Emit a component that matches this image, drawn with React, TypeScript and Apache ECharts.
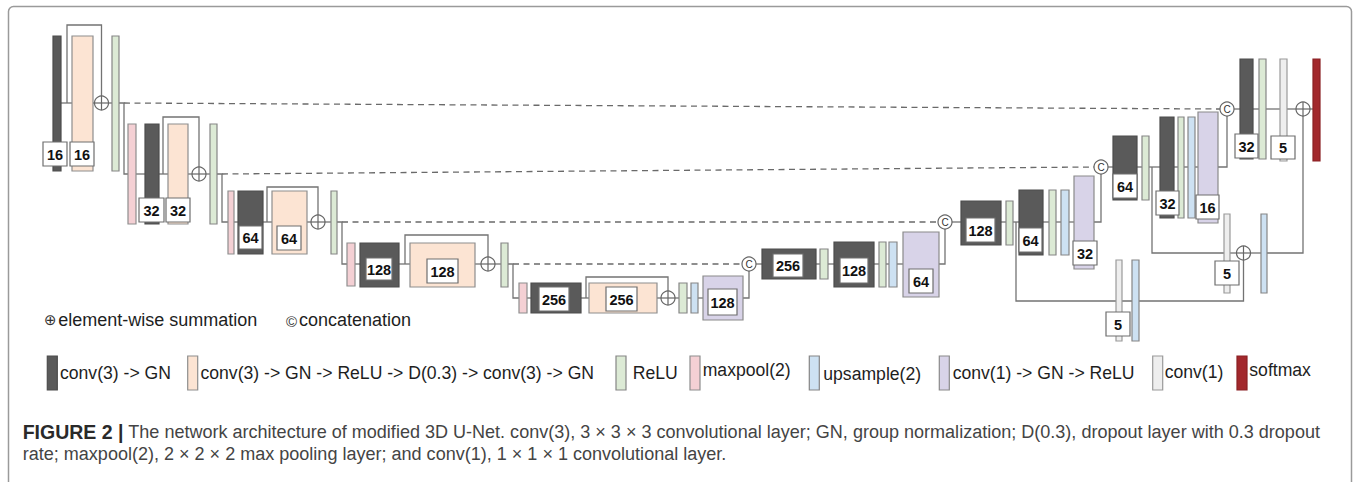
import React, { useEffect, useRef } from "react";
import * as echarts from "echarts";

const W = 1357;
const H = 482;
const FONT = "'Liberation Sans', Arial, Helvetica, sans-serif";

// ---------- layer kinds (legend order) ----------
const layerKinds = [
  "conv(3) -> GN",
  "conv(3) -> GN -> ReLU -> D(0.3) -> conv(3) -> GN",
  "ReLU",
  "maxpool(2)",
  "upsample(2)",
  "conv(1) -> GN -> ReLU",
  "conv(1)",
  "softmax",
];

// ---------- diagram data, in diagram units ----------
// layer blocks: [x0, y0, x1, y1, kindIndex]
const encoderBlocks = [
  [53, 36, 61, 171, 0], [72, 36, 93, 171, 1], [112, 36, 119, 171, 2],
  [128, 124, 136, 224, 3], [145, 124, 159, 224, 0], [168, 124, 188, 224, 1], [210, 124, 217, 224, 2],
  [228, 191, 234, 254, 3], [238, 191, 263, 254, 0], [272, 191, 307, 254, 1], [331, 191, 337, 254, 2],
  [347, 243, 355, 286, 3], [360, 243, 399, 287, 0], [410, 243, 475, 287, 1], [501, 243, 508, 287, 2],
  [519, 283, 527, 313, 3], [531, 283, 581, 313, 0], [589, 283, 657, 313, 1], [679, 283, 687, 313, 2],
  [691, 283, 698, 313, 4], [703, 276, 743, 320, 5],
];
const decoderBlocks = [
  [762, 249, 816, 279, 0], [820, 249, 828, 279, 2], [834, 242, 874, 287, 0], [879, 242, 886, 287, 2],
  [889, 242, 897, 287, 4], [903, 232, 939, 297, 5],
  [961, 201, 1001, 245, 0], [1006, 201, 1013, 245, 2], [1019, 190, 1043, 255, 0], [1049, 190, 1056, 255, 2],
  [1061, 190, 1069, 255, 4], [1074, 176, 1094, 269, 5],
  [1113, 136, 1137, 200, 0], [1142, 136, 1149, 200, 2], [1160, 117, 1174, 218, 0], [1178, 117, 1184, 218, 2],
  [1188, 117, 1195, 218, 4], [1198, 112, 1218, 223, 5],
  [1240, 59, 1253, 159, 0], [1259, 59, 1266, 159, 2], [1280, 59, 1287, 161, 6], [1313, 59, 1320, 161, 7],
];
const supervisionBlocks = [
  [1224, 214, 1230, 293, 6], [1261, 214, 1267, 293, 4],
  [1116, 260, 1122, 341, 6], [1132, 260, 1139, 341, 4],
];
const blocks = [...encoderBlocks, ...decoderBlocks, ...supervisionBlocks];

// channel-count boxes: [x0, y0, x1, y1]
const channelBoxes = [
  [43, 142, 67, 166], [70, 142, 94, 166],
  [139, 198, 164, 222], [166, 198, 190, 222],
  [239, 226, 262, 249], [277, 226, 301, 250],
  [366, 258, 392, 280], [427, 259, 458, 283],
  [539, 287, 569, 311], [606, 287, 637, 311], [708, 289, 737, 315],
  [773, 254, 803, 277], [840, 258, 868, 283], [909, 269, 933, 293],
  [966, 218, 995, 242], [1019, 228, 1042, 252], [1073, 241, 1097, 265],
  [1113, 174, 1137, 198], [1156, 191, 1179, 215], [1196, 195, 1219, 219],
  [1235, 134, 1258, 158], [1271, 136, 1295, 159],
  [1215, 261, 1239, 285], [1106, 312, 1130, 336],
];
const channelCounts = [
  "16", "16", "32", "32", "64", "64", "128", "128", "256", "256", "128",
  "256", "128", "64", "128", "64", "32", "64", "32", "16", "32", "5", "5", "5",
];

// solid connections: flat point lists [x, y, x, y, ...]
const wires = [
  [61, 103, 72, 103], [67, 103, 67, 25, 101.5, 25, 101.5, 96], [93, 103, 95, 103], [108, 103, 112, 103],
  [119, 103, 124, 103, 124, 174, 128, 174],
  [136, 174, 145, 174], [159, 174, 168, 174], [163, 174, 163, 117, 199, 117, 199, 167],
  [188, 174, 192.5, 174], [205.5, 174, 210, 174], [217, 174, 222, 174, 222, 222, 228, 222],
  [234, 222, 238, 222], [263, 222, 272, 222], [267, 222, 267, 187, 318, 187, 318, 215],
  [307, 222, 311.5, 222], [324.5, 222, 331, 222], [337, 222, 342, 222, 342, 264, 347, 264],
  [355, 264, 360, 264], [399, 264, 410, 264], [405, 264, 405, 235, 488, 235, 488, 257],
  [475, 264, 481.5, 264], [494.5, 264, 501, 264], [508, 264, 513, 264, 513, 298, 519, 298],
  [527, 298, 531, 298], [581, 298, 589, 298], [586, 298, 586, 277, 668, 277, 668, 291],
  [657, 298, 661.5, 298], [674.5, 298, 679, 298], [687, 298, 691, 298], [698, 298, 703, 298],
  [743, 298, 749, 298, 749, 270.5],
  [755.5, 264, 762, 264], [816, 264, 820, 264], [828, 264, 834, 264], [874, 264, 879, 264],
  [886, 264, 889, 264], [897, 264, 903, 264], [939, 264, 945, 264, 945, 228.5],
  [951.5, 222, 961, 222], [1001, 222, 1006, 222], [1013, 222, 1019, 222],
  [1016, 222, 1016, 301, 1243.5, 301, 1243.5, 259.5],
  [1043, 222, 1049, 222], [1056, 222, 1061, 222], [1069, 222, 1074, 222],
  [1094, 222, 1101, 222, 1101, 173.5],
  [1107.5, 167, 1113, 167], [1137, 167, 1142, 167], [1149, 167, 1160, 167],
  [1152, 167, 1152, 253, 1224, 253],
  [1174, 167, 1178, 167], [1184, 167, 1188, 167], [1195, 167, 1198, 167],
  [1218, 167, 1227, 167, 1227, 115.5],
  [1230, 253, 1237, 253], [1250, 253, 1261, 253], [1267, 253, 1303, 253, 1303, 115.5],
  [1233.5, 109, 1240, 109], [1253, 109, 1259, 109], [1266, 109, 1280, 109],
  [1287, 109, 1296.5, 109], [1309.5, 109, 1313, 109],
];
// skip connections (dashed)
const skipLinks = [
  [124, 103, 1220.5, 109],
  [222, 174, 1094.5, 167],
  [342, 222, 938.5, 222],
  [513, 264, 742.5, 264],
];
// element-wise summations and concatenations: [x, y]
const summations = [[101.5, 103], [199, 174], [318, 222], [488, 264], [668, 298], [1243.5, 253], [1303, 109]];
const concatenations = [[749, 264], [945, 222], [1101, 167], [1227, 109]];

const captionLines = [
  "The network architecture of modified 3D U-Net. conv(3), 3 × 3 × 3 convolutional layer; GN, group normalization; D(0.3), dropout layer with 0.3 dropout",
  "rate; maxpool(2), 2 × 2 × 2 max pooling layer; and conv(1), 1 × 1 × 1 convolutional layer.",
];

// ---------- styles ----------
const kindFill = ["#5a5a5a", "#fce4d3", "#dceAd5", "#f4d0d4", "#cde1f2", "#d8d3e8", "#eeeeee", "#a2282c"];
const kindStroke = ["#4c4c4c", "#8e8e8e", "#858585", "#8e8e8e", "#858585", "#8a8a8a", "#9a9a9a", "#8a2024"];
const WIRE = "#737373";

const legendSwatchX = [47.3, 187.7, 616, 690, 809.3, 939.3, 1152.7, 1237];
const legendTextX = [60, 200.5, 632.7, 702.7, 823.3, 952.7, 1164.7, 1249.3];
const legendTextY = [373, 373, 373, 370, 374, 373, 372, 369.5];

function rectOf(api: any, d: number[]) {
  const p0 = api.coord([d[0], d[1]]);
  const p1 = api.coord([d[2], d[3]]);
  return { x: p0[0], y: p0[1], width: p1[0] - p0[0], height: p1[1] - p0[1] };
}

function buildOption() {
  const legendEls: any[] = [];
  layerKinds.forEach((name, i) => {
    legendEls.push({
      type: "rect",
      shape: { x: legendSwatchX[i], y: 356, width: 10, height: 34 },
      style: { fill: kindFill[i], stroke: kindStroke[i], lineWidth: 1.2 },
    });
    legendEls.push({
      type: "text",
      x: legendTextX[i],
      y: legendTextY[i],
      style: { text: name, font: `17.6px ${FONT}`, fill: "#1e1e1e", verticalAlign: "middle", align: "left" },
    });
  });

  const graphicEls: any[] = [
    {
      type: "rect",
      shape: { x: 8.5, y: 6.5, width: 1343, height: 520, r: 5 },
      style: { fill: "none", stroke: "#9a9a9a", lineWidth: 1.5 },
    },
    {
      type: "text", x: 44, y: 320,
      style: { text: "⊕", font: `15px 'DejaVu Sans', ${FONT}`, fill: "#333", verticalAlign: "middle" },
    },
    {
      type: "text", x: 58.3, y: 320,
      style: { text: "element-wise summation", font: `18px ${FONT}`, fill: "#1e1e1e", verticalAlign: "middle" },
    },
    {
      type: "text", x: 286, y: 321,
      style: { text: "©", font: `15px ${FONT}`, fill: "#333", verticalAlign: "middle" },
    },
    {
      type: "text", x: 299, y: 320,
      style: { text: "concatenation", font: `18px ${FONT}`, fill: "#1e1e1e", verticalAlign: "middle" },
    },
    ...legendEls,
    {
      type: "text", x: 22.7, y: 432,
      style: { text: "FIGURE 2 |", font: `bold 19.5px ${FONT}`, fill: "#2a2a2a", verticalAlign: "middle" },
    },
    {
      type: "text", x: 128.3, y: 432,
      style: { text: captionLines[0], font: `18.05px ${FONT}`, fill: "#444", verticalAlign: "middle" },
    },
    {
      type: "text", x: 22.7, y: 453.5,
      style: { text: captionLines[1], font: `18.05px ${FONT}`, fill: "#444", verticalAlign: "middle" },
    },
  ];

  const common = { type: "custom", coordinateSystem: "cartesian2d", silent: true, clip: false };

  return {
    animation: false,
    backgroundColor: "#ffffff",
    grid: { left: 0, right: 0, top: 0, bottom: 0, containLabel: false },
    xAxis: { type: "value", min: 0, max: W, show: false },
    yAxis: { type: "value", min: 0, max: H, inverse: true, show: false },
    graphic: { elements: graphicEls },
    series: [
      {
        ...common,
        name: "skip",
        z: 1,
        data: skipLinks.map((w, i) => [w[0], w[1], i]),
        renderItem: (params: any, api: any) => {
          const w = skipLinks[params.dataIndex];
          const a = api.coord([w[0], w[1]]);
          const b = api.coord([w[2], w[3]]);
          return {
            type: "line",
            shape: { x1: a[0], y1: a[1], x2: b[0], y2: b[1] },
            style: { stroke: "#6a6a6a", lineWidth: 1.3, lineDash: [6, 4.5] },
          };
        },
      },
      {
        ...common,
        name: "wires",
        z: 2,
        data: wires.map((w, i) => [w[0], w[1], i]),
        renderItem: (params: any, api: any) => {
          const w = wires[params.dataIndex];
          const pts: number[][] = [];
          for (let i = 0; i < w.length; i += 2) pts.push(api.coord([w[i], w[i + 1]]));
          return {
            type: "polyline",
            shape: { points: pts },
            style: { stroke: WIRE, lineWidth: 1.3, fill: "none" },
          };
        },
      },
      {
        ...common,
        name: "layers",
        z: 3,
        data: blocks,
        renderItem: (params: any, api: any) => {
          const d = blocks[params.dataIndex];
          const k = d[4];
          return {
            type: "rect",
            shape: rectOf(api, d),
            style: { fill: kindFill[k], stroke: kindStroke[k], lineWidth: 1.2 },
          };
        },
      },
      {
        ...common,
        name: "channels",
        z: 4,
        data: channelBoxes,
        renderItem: (params: any, api: any) => {
          const d = channelBoxes[params.dataIndex];
          const r = rectOf(api, d);
          return {
            type: "group",
            children: [
              { type: "rect", shape: r, style: { fill: "#ffffff", stroke: "#6e6e6e", lineWidth: 1.2 } },
              {
                type: "text",
                style: {
                  text: channelCounts[params.dataIndex],
                  x: r.x + r.width / 2,
                  y: r.y + r.height / 2 + 0.5,
                  align: "center",
                  verticalAlign: "middle",
                  font: `bold 14.5px ${FONT}`,
                  fill: "#111",
                },
              },
            ],
          };
        },
      },
      {
        ...common,
        name: "sum",
        z: 5,
        data: summations,
        renderItem: (params: any, api: any) => {
          const s = summations[params.dataIndex];
          const c = api.coord([s[0], s[1]]);
          const r = 7;
          const st = { stroke: "#666", lineWidth: 1.2 };
          return {
            type: "group",
            children: [
              { type: "circle", shape: { cx: c[0], cy: c[1], r }, style: { fill: "#fff", ...st } },
              { type: "line", shape: { x1: c[0] - r, y1: c[1], x2: c[0] + r, y2: c[1] }, style: st },
              { type: "line", shape: { x1: c[0], y1: c[1] - r, x2: c[0], y2: c[1] + r }, style: st },
            ],
          };
        },
      },
      {
        ...common,
        name: "concat",
        z: 5,
        data: concatenations,
        renderItem: (params: any, api: any) => {
          const s = concatenations[params.dataIndex];
          const c = api.coord([s[0], s[1]]);
          return {
            type: "group",
            children: [
              { type: "circle", shape: { cx: c[0], cy: c[1], r: 7 }, style: { fill: "#fff", stroke: "#666", lineWidth: 1.2 } },
              {
                type: "text",
                style: {
                  text: "C", x: c[0], y: c[1] + 0.5, align: "center", verticalAlign: "middle",
                  font: `10px ${FONT}`, fill: "#333",
                },
              },
            ],
          };
        },
      },
    ],
  };
}

export default function App() {
  const ref = useRef<HTMLDivElement>(null);
  useEffect(() => {
    if (!ref.current) return;
    const chart = echarts.init(ref.current, undefined, { renderer: "svg" });
    chart.setOption(buildOption() as any);
    return () => chart.dispose();
  }, []);
  return (
    <div
      ref={ref}
      style={{ position: "fixed", left: 0, top: 0, width: W, height: H, background: "#fff" }}
    />
  );
}
